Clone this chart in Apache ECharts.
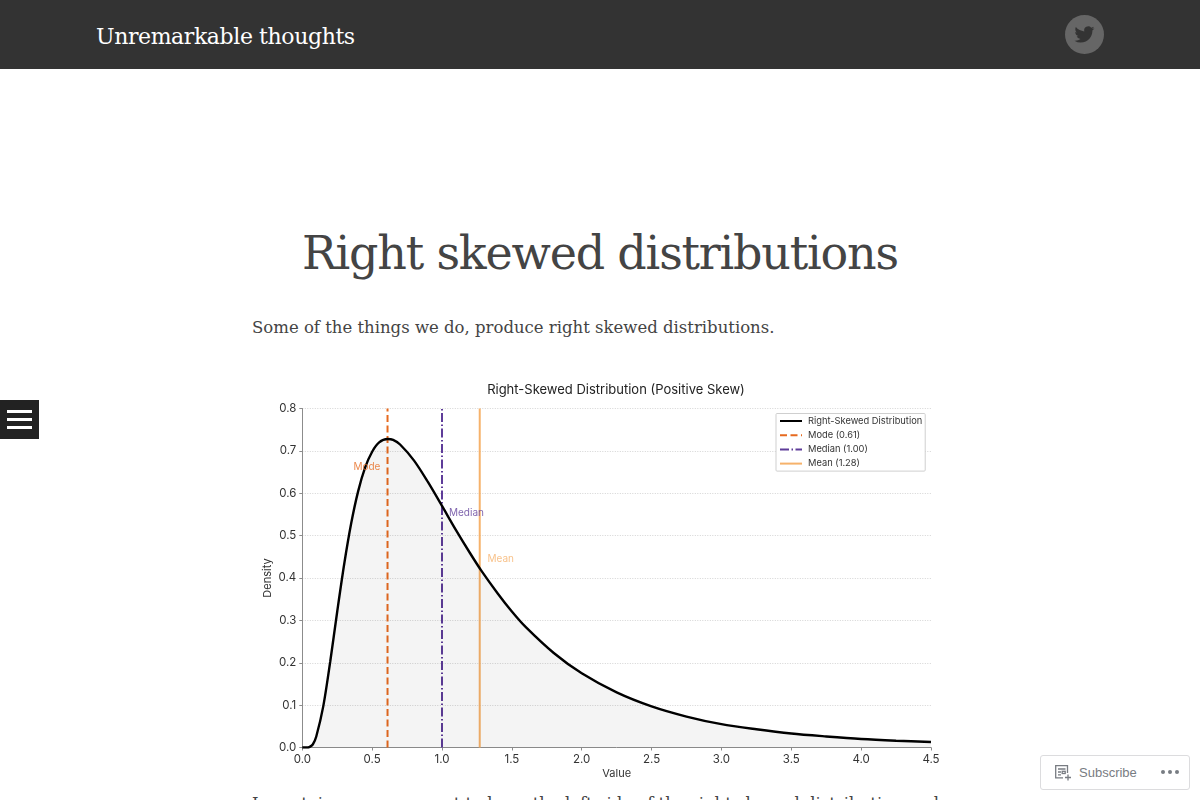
<!DOCTYPE html>
<html>
<head>
<meta charset="utf-8">
<style>
html,body{margin:0;padding:0;background:#fff;width:1200px;height:800px;overflow:hidden;font-family:"DejaVu Serif",serif;}
#head{position:absolute;left:0;top:0;width:1200px;height:69px;background:#333;}
#site{position:absolute;left:96px;top:22px;color:#fff;font-size:22px;line-height:30px;font-family:"DejaVu Serif",serif;letter-spacing:-0.4px;white-space:nowrap;}
#tw{position:absolute;left:1065px;top:15px;}
#post{position:absolute;left:0;width:1200px;top:221px;text-align:center;color:#444;font-size:46px;line-height:64px;letter-spacing:-1.2px;white-space:nowrap;}
.p{position:absolute;left:252px;color:#444;font-size:16.5px;line-height:26px;white-space:nowrap;}
#menu{position:absolute;left:0;top:400px;width:39px;height:39px;background:#222;}
#menu i{position:absolute;left:7px;width:25px;height:3.4px;background:#fff;}
#sub{position:absolute;left:1040px;top:755px;width:148px;height:33px;background:#fff;border:1px solid #dcdcde;border-radius:3px;color:#787c82;font:13px "Liberation Sans",Arial,sans-serif;}
#sub span{position:absolute;left:38px;top:9px;}
#chart{position:absolute;left:0;top:0;width:1200px;height:800px;}
</style>
</head>
<body>
<div id="head"><div id="site">Unremarkable thoughts</div>
<svg id="tw" width="39" height="39" viewBox="0 0 39 39"><circle cx="19.5" cy="19.5" r="19.5" fill="#666"/><g transform="translate(9.5,9.5) scale(.83)"><path fill="#333" d="M23.953 4.57a10 10 0 01-2.825.775 4.958 4.958 0 002.163-2.723c-.951.555-2.005.959-3.127 1.184a4.92 4.92 0 00-8.384 4.482C7.69 8.095 4.067 6.13 1.64 3.162a4.822 4.822 0 00-.666 2.475c0 1.71.87 3.213 2.188 4.096a4.904 4.904 0 01-2.228-.616v.06a4.923 4.923 0 003.946 4.827 4.996 4.996 0 01-2.212.085 4.936 4.936 0 004.604 3.417 9.867 9.867 0 01-6.102 2.105c-.39 0-.779-.023-1.17-.067a13.995 13.995 0 007.557 2.209c9.053 0 13.998-7.496 13.998-13.985 0-.21 0-.42-.015-.63A9.935 9.935 0 0024 4.59z"/></g></svg>
</div>
<div id="post">Right skewed distributions</div>
<div class="p" style="top:315px">Some of the things we do, produce right skewed distributions.</div>
<div class="p" style="top:791px">In certain cases we want to keep the left side of the right skewed distribution and</div>
<div id="menu"><i style="top:10px"></i><i style="top:18px"></i><i style="top:25.5px"></i></div>
<div id="sub">
<svg style="position:absolute;left:13px;top:8px" width="18" height="18" viewBox="0 0 18 18" fill="none" stroke="#787c82" stroke-width="1.3"><path d="M13.5 9V1.7H1.7v12.1H9"/><path d="M4 5h7.5M4 8h3M4 10.8h3"/><rect x="8.2" y="7.3" width="3" height="2.2"/><path d="M14 10.5v6M11 13.5h6"/></svg>
<span>Subscribe</span>
<svg style="position:absolute;left:119px;top:13px" width="20" height="6" fill="#787c82"><circle cx="3" cy="3" r="2"/><circle cx="10" cy="3" r="2"/><circle cx="17" cy="3" r="2"/></svg>
</div>
<div id="chart"></div>
<script src="https://cdn.jsdelivr.net/npm/echarts@6/dist/echarts.min.js"></script>
<script>
const chartTitle = "Right-Skewed Distribution (Positive Skew)";
const xName = "Value";
const yName = "Density";
const curveName = "Right-Skewed Distribution";
const curveX = [0,0.03,0.05,0.075,0.1,0.15,0.2,0.25,0.3,0.35,0.4,0.45,0.5,0.55,0.61,0.65,0.7,0.8,0.9,1.0,1.1,1.2,1.28,1.4,1.5,1.6,1.8,2.0,2.25,2.5,2.75,3.0,3.25,3.5,3.75,4.0,4.25,4.5];
const curveY = [0,0,0.001,0.007,0.026,0.097,0.203,0.321,0.433,0.529,0.605,0.661,0.698,0.72,0.728,0.726,0.715,0.677,0.626,0.57,0.513,0.459,0.418,0.363,0.321,0.284,0.223,0.175,0.13,0.097,0.073,0.055,0.043,0.033,0.026,0.02,0.016,0.013];
const markerNames = ["Mode (0.61)","Median (1.00)","Mean (1.28)"];
const markerX = [0.61,1.0,1.27];
const markerSpan = [0,0.8];
const noteText = ["Mode","Median","Mean"];
const noteX = [0.559,1.05,1.325];
const noteY = [0.662,0.554,0.4446];

const colors = ["#e66a1f","#5e3c99","#f6b26b"];
const dashes = [[7,3.5],[9,2.5,1.5,2.5],"solid"];
const font = "Inter, 'Noto Sans', sans-serif";

const markerSeries = markerNames.map((n,i)=>({
  name:n,type:"line",symbol:"none",silent:true,z:4,
  data:markerSpan.map(v=>[markerX[i],v]),
  lineStyle:{color:colors[i],width:2,type:dashes[i]},
  itemStyle:{color:colors[i]}
}));

const chart = echarts.init(document.getElementById("chart"),null,{renderer:"canvas"});
chart.setOption({
  animation:false,
  backgroundColor:"transparent",
  title:{text:chartTitle,left:616,top:382,textAlign:"center",padding:0,textStyle:{fontFamily:font,fontSize:13,fontWeight:"normal",color:"#222",lineHeight:17}},
  grid:{left:302.3,right:269,top:408.5,bottom:52.5,containLabel:false},
  graphic:[{type:"text",x:268,y:578,rotation:Math.PI/2,silent:true,
    style:{text:yName,align:"center",verticalAlign:"middle",fontFamily:font,fontSize:11,fill:"#333"}}],
  legend:{
    left:776,top:413.5,orient:"vertical",padding:[3,3,3,3],itemGap:5.2,itemWidth:22,itemHeight:10.8,
    itemStyle:{opacity:0},
    data:[curveName].concat(markerNames),
    backgroundColor:"#fff",borderColor:"#cfcfcf",borderWidth:1,borderRadius:1,
    textStyle:{fontFamily:font,fontSize:9.3,color:"#333",padding:[0,0,0,1]},
    selectedMode:false
  },
  xAxis:{type:"value",min:0,max:4.5,interval:0.5,name:xName,nameLocation:"middle",nameGap:21,
    nameTextStyle:{fontFamily:font,fontSize:11,color:"#333"},
    axisLine:{lineStyle:{color:"#8c8c8c",width:1}},axisTick:{length:3,lineStyle:{color:"#8c8c8c"}},
    axisLabel:{fontFamily:font,fontSize:11.5,color:"#333",margin:6,formatter:v=>v.toFixed(1),showMinLabel:true,showMaxLabel:true},
    splitLine:{show:false}},
  yAxis:{type:"value",min:0,max:0.8,interval:0.1,
    axisLine:{show:true,lineStyle:{color:"#8c8c8c",width:1}},axisTick:{show:true,length:3,lineStyle:{color:"#8c8c8c"}},
    axisLabel:{fontFamily:font,fontSize:11.5,color:"#333",margin:6,formatter:v=>v.toFixed(1)},
    splitLine:{show:true,lineStyle:{color:"#d4d4d4",width:1,type:[1,1.5]}}},
  series:[
    {name:curveName,type:"line",symbol:"none",smooth:0.3,silent:true,z:5,
     data:curveX.map((x,i)=>[x,curveY[i]]),
     lineStyle:{color:"#000",width:2.4},itemStyle:{color:"#000"},
     areaStyle:{color:"rgba(0,0,0,0.06)"}}
  ].concat(markerSeries,[
    {type:"scatter",symbolSize:0,silent:true,z:6,
     data:noteText.map((t,i)=>({value:[noteX[i],noteY[i]],
       label:{show:true,formatter:t,position:i===0?"left":"right",distance:0,color:colors[i],fontFamily:font,fontSize:10}}))}
  ])
});
</script>
</body>
</html>
